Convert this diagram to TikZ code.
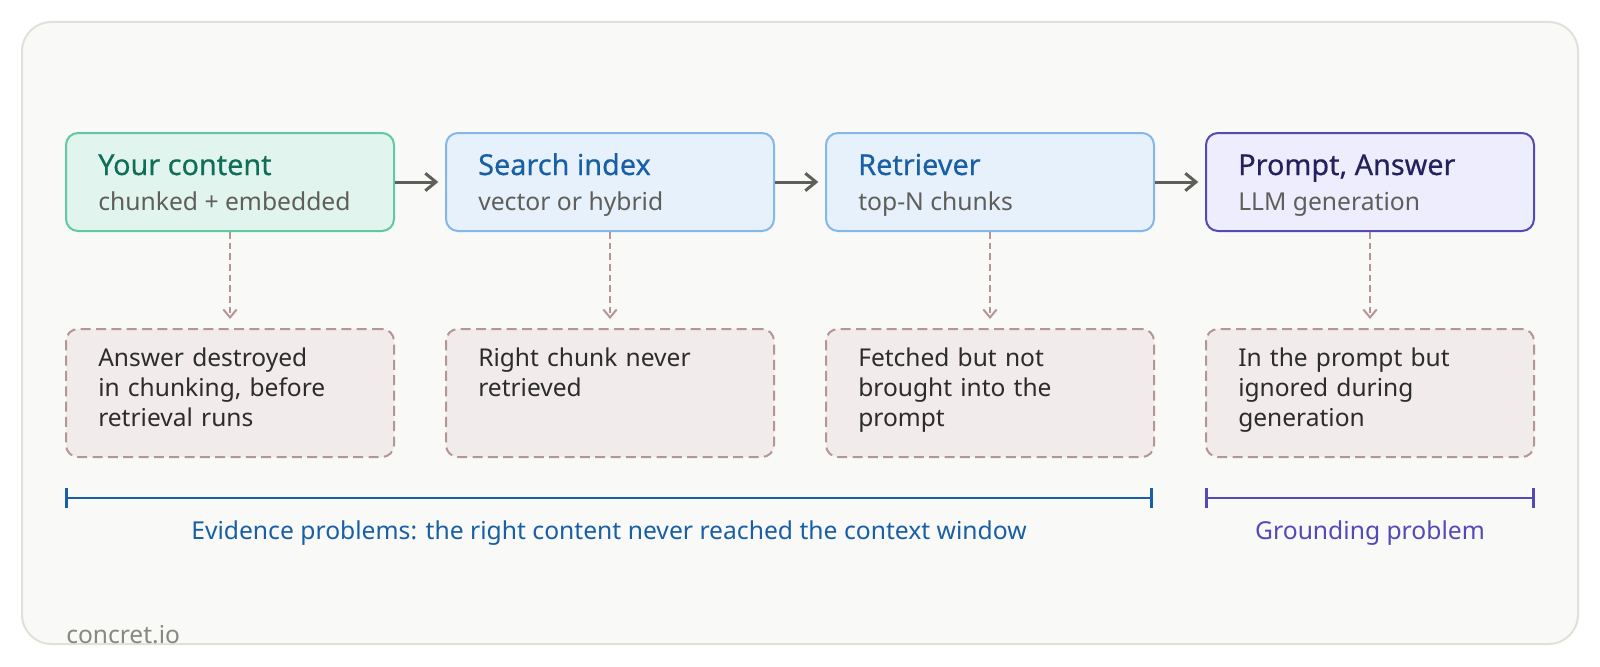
\documentclass[tikz,border=0pt]{standalone}
\usepackage{fontspec}
\setmainfont{Noto Sans}
\newfontfamily\headfont[FakeBold=0.5]{Noto Sans}
\usetikzlibrary{arrows.meta,positioning,calc}
\definecolor{framefill}{HTML}{F9F9F7}
\definecolor{frameline}{HTML}{E2E0D9}
\definecolor{greenfill}{HTML}{E1F5EE}
\definecolor{greenline}{HTML}{5DCAA5}
\definecolor{greentext}{HTML}{0F6E56}
\definecolor{bluefill}{HTML}{E6F1FB}
\definecolor{blueline}{HTML}{85B7EB}
\definecolor{bluetext}{HTML}{185FA5}
\definecolor{purplefill}{HTML}{EEEDFE}
\definecolor{purpleline}{HTML}{534AB7}
\definecolor{purpletext}{HTML}{26215C}
\definecolor{subtext}{HTML}{5F5E5A}
\definecolor{issuefill}{HTML}{F1ECEB}
\definecolor{issueline}{HTML}{B69595}
\definecolor{bodytext}{HTML}{2C2C2A}
\definecolor{arrowgrey}{HTML}{5F5E5A}
\definecolor{markgrey}{HTML}{888780}

\begin{document}
\begin{tikzpicture}[x=0.75pt, y=-0.75pt,
  stagebox/.style={draw, line width=1.5pt, rounded corners=9pt,
    minimum width=246pt, minimum height=73.5pt, inner sep=0pt},
  issuebox/.style={draw=issueline, fill=issuefill, line width=1.5pt,
    dash pattern=on 7.5pt off 4pt, rounded corners=9pt,
    minimum width=246pt, minimum height=96pt, inner sep=0pt},
  headtext/.style={anchor=base west, inner sep=0pt,
    font=\headfont\fontsize{21.6}{25}\selectfont},
  subtitle/.style={anchor=base west, inner sep=0pt, text=subtext,
    font=\fontsize{18.5}{22}\selectfont},
  issuetext/.style={anchor=base west, inner sep=0pt, text=bodytext,
    text width=225pt, align=left, font=\fontsize{18.4}{22.5}\selectfont},
  flow/.style={draw=arrowgrey, line width=2.25pt, shorten >=5pt,
    -{Straight Barb[length=8pt, width=13pt]}},
  drop/.style={draw=issueline, line width=1.5pt, dash pattern=on 5pt off 3pt,
    shorten >=6.75pt, -{Straight Barb[length=6pt, width=10pt]}},
  span/.style={line width=1.9pt, {Bar[width=15pt]}-{Bar[width=15pt]}},
  spantext/.style={anchor=base, inner sep=0pt, font=\fontsize{18.5}{22}\selectfont}]

  % canvas and frame
  \fill[white] (0,0) rectangle (1600,667);
  \useasboundingbox (0,0) rectangle (1600,667);
  \draw[fill=framefill, draw=frameline, line width=1.5pt, rounded corners=22pt]
    (22,22) rectangle (1578,644);

  % pipeline stages
  \node[stagebox, draw=greenline, fill=greenfill] (content) at (230,182) {};
  \node[stagebox, draw=blueline, fill=bluefill, right=37.5pt of content] (index) {};
  \node[stagebox, draw=blueline, fill=bluefill, right=37.5pt of index] (retriever) {};
  \node[stagebox, draw=purpleline, fill=purplefill, right=37.5pt of retriever] (prompt) {};

  \foreach \s/\col/\ti/\sub in {content/greentext/Your content/chunked + embedded,
      index/bluetext/Search index/vector or hybrid,
      retriever/bluetext/Retriever/top-N chunks,
      prompt/purpletext/{Prompt, Answer}/LLM generation} {
    \node[headtext, text=\col] (\s-title) at ($(\s.north west)+(33,43)$) {\ti};
    \node[subtitle] (\s-sub) at ($(\s.north west)+(33,78)$) {\sub};
  }

  \draw[flow] (content) -- (index);
  \draw[flow] (index) -- (retriever);
  \draw[flow] (retriever) -- (prompt);

  % where it fails
  \foreach \s/\txt in {content/{Answer destroyed\\in chunking, before\\retrieval runs},
      index/{Right chunk never\\retrieved},
      retriever/{Fetched but not\\brought into the\\prompt},
      prompt/{In the prompt but\\ignored during\\generation}} {
    \node[issuebox, below=72pt of \s] (\s-issue) {};
    \node[issuetext] (\s-note) at ($(\s-issue.north west)+(33,38)$) {\txt};
    \draw[drop] (\s) -- (\s-issue);
  }

  % spans
  \coordinate (evL) at ($(content-issue.south west)+(0,40)$);
  \coordinate (evR) at ($(retriever-issue.south east)+(-2,40)$);
  \coordinate (grL) at ($(prompt-issue.south west)+(0,40)$);
  \coordinate (grR) at ($(prompt-issue.south east)+(0,40)$);
  \draw[span, draw=bluetext] (evL) -- (evR);
  \draw[span, draw=purpleline] (grL) -- (grR);
  \node[spantext, text=bluetext] (evLabel) at ($(evL)!0.5!(evR)+(0,41)$)
    {Evidence problems: the right content never reached the context window};
  \node[spantext, text=purpleline] (grLabel) at ($(grL)!0.5!(grR)+(0,41)$)
    {Grounding problem};

  \node[anchor=base west, inner sep=0pt, text=markgrey,
    font=\fontsize{18.4}{22}\selectfont] (brand) at (66,643) {concret.io};
\end{tikzpicture}
\end{document}
